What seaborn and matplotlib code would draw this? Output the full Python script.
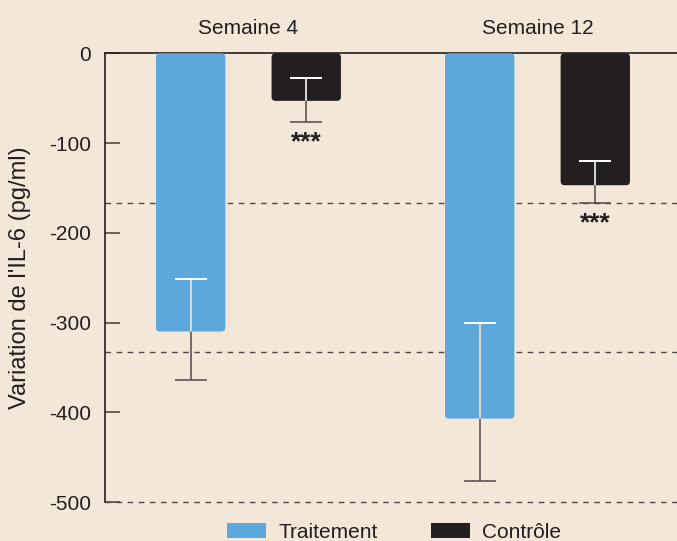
import matplotlib
matplotlib.use("Agg")
import matplotlib.pyplot as plt
from matplotlib.patches import FancyBboxPatch, Patch
import seaborn as sns
import pandas as pd
import numpy as np

# ---- data ----
weeks = ["Semaine 4", "Semaine 12"]
groups = ["Traitement", "Contrôle"]
traitement = [-310, -407]
controle = [-53, -147]
# error extents (below the bar end, above the bar end)
traitement_err_low = [54, 70]
traitement_err_high = [59, 106]
controle_err_low = [24, 20]
controle_err_high = [25, 27]
stars = ["", "***"]  # per group: Traitement none, Contrôle ***
yticks = [0, -100, -200, -300, -400, -500]
ref_lines = [-500 / 3, -1000 / 3, -500]

BG = "#F3E7D9"
BLUE = "#5CA8DB"
DARK = "#231F20"
GREY = "#4E4848"

sns.set_theme(style="white")
plt.rcParams["font.family"] = ["Liberation Sans", "DejaVu Sans"]

df = pd.DataFrame({
    "week": weeks * 2,
    "group": [groups[0]] * 2 + [groups[1]] * 2,
    "value": traitement + controle,
})

fig = plt.figure(figsize=(6.77, 5.41), dpi=100, facecolor=BG)
ax = fig.add_axes([0.155, 0.072, 0.845, 0.8295])
ax.set_facecolor(BG)

sns.barplot(data=df, x="week", y="value", hue="group", order=weeks,
            hue_order=groups, palette=[BLUE, DARK], width=0.8, gap=0.4,
            ax=ax, legend=False, errorbar=None, saturation=1)

ax.set_xlim(-0.4965, 1.4827)
ax.set_ylim(-500, 0)

# figure geometry for rounded corners
fig_w_px = fig.get_figwidth() * fig.dpi
fig_h_px = fig.get_figheight() * fig.dpi
pos = ax.get_position()
x_per_px = (ax.get_xlim()[1] - ax.get_xlim()[0]) / (pos.width * fig_w_px)
y_per_px = (ax.get_ylim()[1] - ax.get_ylim()[0]) / (pos.height * fig_h_px)
aspect = y_per_px / x_per_px
r = 4 * x_per_px

bars = list(ax.patches)
lows = {groups[0]: traitement_err_low, groups[1]: controle_err_low}
highs = {groups[0]: traitement_err_high, groups[1]: controle_err_high}
vals = {groups[0]: traitement, groups[1]: controle}
cols = {groups[0]: BLUE, groups[1]: DARK}

# seaborn adds bars hue-wise: first all Traitement, then Contrôle
for gi, g in enumerate(groups):
    for wi in range(len(weeks)):
        b = bars[gi * len(weeks) + wi]
        x0, w = b.get_x(), b.get_width()
        h = b.get_height()
        y0 = min(b.get_y(), b.get_y() + h)
        b.set_visible(False)
        fb = FancyBboxPatch((x0, y0), w, abs(h),
                            boxstyle=f"round,pad=0,rounding_size={r}",
                            mutation_aspect=aspect, facecolor=cols[g],
                            edgecolor="none", zorder=2)
        ax.add_patch(fb)
        xc = x0 + w / 2
        v = vals[g][wi]
        yerr = np.array([[lows[g][wi]], [highs[g][wi]]])
        ax.errorbar([xc], [v], yerr=yerr, fmt="none", ecolor=GREY,
                    elinewidth=1.1, capsize=11.5, capthick=1.1, zorder=3)
        cont = ax.errorbar([xc], [v], yerr=yerr, fmt="none", ecolor="white",
                           elinewidth=1.1, capsize=11.5, capthick=1.1, zorder=4)
        for art in list(cont.lines[1]) + list(cont.lines[2]):
            art.set_clip_path(fb)
        if stars[gi]:
            ax.annotate(stars[gi], (xc, v - lows[g][wi]), xytext=(0, -6),
                        textcoords="offset points", ha="center", va="top",
                        fontsize=19, fontweight="bold", color=DARK)

for yl in ref_lines:
    ax.axhline(yl, color=GREY, lw=1.0, ls=(0, (4, 4)), zorder=1, clip_on=False)

# spines
for s in ["right", "bottom"]:
    ax.spines[s].set_visible(False)
ax.spines["left"].set_color(DARK)
ax.spines["top"].set_color(DARK)
ax.spines["left"].set_linewidth(1.2)
ax.spines["top"].set_linewidth(1.2)
ax.spines["left"].set_zorder(5)
ax.spines["top"].set_zorder(1.5)

ax.set_yticks(yticks)
ax.set_yticklabels([str(t) for t in yticks])
ax.tick_params(axis="y", direction="in", length=11, width=1.2, color=GREY,
               labelsize=15, labelcolor=DARK, left=True, pad=10)

ax.xaxis.tick_top()
ax.tick_params(axis="x", length=0, labelsize=15, labelcolor=DARK, pad=11)
ax.set_xlabel("")
ax.set_ylabel("Variation de l'IL-6 (pg/ml)", fontsize=17, color=DARK, labelpad=13)

handles = [Patch(facecolor=BLUE, edgecolor="none"), Patch(facecolor=DARK, edgecolor="none")]
fig.legend(handles, groups, loc="lower center", bbox_to_anchor=(0.582, -0.036),
           ncol=2, frameon=False, fontsize=15, handlelength=1.87,
           handleheight=0.72, handletextpad=0.62, columnspacing=2.53,
           labelcolor=DARK)

fig.savefig("out.png", dpi=100, facecolor=BG)
